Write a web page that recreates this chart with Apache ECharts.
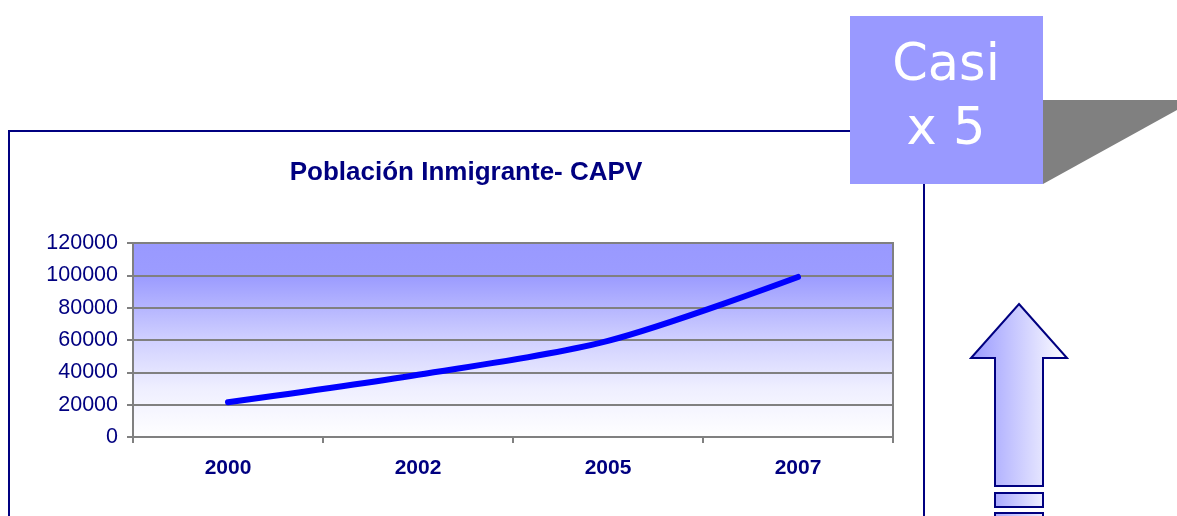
<!DOCTYPE html>
<html>
<head>
<meta charset="utf-8">
<script src="https://cdn.jsdelivr.net/npm/echarts@6/dist/echarts.min.js"></script>
<style>
  html, body { margin: 0; padding: 0; background: #fff; }
  #chart { width: 1177px; height: 516px; }
</style>
</head>
<body>
<div id="chart"></div>
<script>
var years = ['2000', '2002', '2005', '2007']
var poblacion = [21500, 38500, 59500, 99000]
var yTicks = { min: 0, max: 120000, step: 20000 }

var chart = echarts.init(document.getElementById('chart'))
var navy = '#000080'
var font = '"Liberation Sans", Arial, sans-serif'

// flecha hacia arriba
var arrowPts = [[1019, 304], [1067, 358], [1043, 358], [1043, 486], [995, 486], [995, 358], [971, 358]]
var arrowFill = {
  type: 'linear', x: 0, y: 0, x2: 1, y2: 0,
  colorStops: [{ offset: 0, color: '#9999ff' }, { offset: 1, color: '#ffffff' }]
}
var rectFill = {
  type: 'linear', x: 0, y: 0, x2: 1, y2: 0,
  colorStops: [{ offset: 0, color: '#a8a8ff' }, { offset: 1, color: '#f0f0ff' }]
}

var option = {
  backgroundColor: '#ffffff',
  animation: false,
  grid: {
    left: 133,
    top: 243,
    right: 284,
    bottom: 79,
    show: true,
    borderColor: '#808080',
    borderWidth: 2,
    backgroundColor: {
      type: 'linear', x: 0, y: 0, x2: 0, y2: 1,
      colorStops: [
        { offset: 0, color: '#9999ff' },
        { offset: 0.18, color: '#9c9cff' },
        { offset: 0.5, color: '#d0d0ff' },
        { offset: 0.75, color: '#efefff' },
        { offset: 1, color: '#ffffff' }
      ]
    }
  },
  xAxis: {
    type: 'category',
    data: years,
    boundaryGap: true,
    axisLine: { lineStyle: { color: '#808080', width: 2 } },
    axisTick: { show: true, length: 6, lineStyle: { color: '#808080', width: 2 } },
    axisLabel: { color: navy, fontSize: 21, fontWeight: 'bold', fontFamily: font, margin: 21 }
  },
  yAxis: {
    type: 'value',
    min: yTicks.min,
    max: yTicks.max,
    interval: yTicks.step,
    axisLine: { show: true, lineStyle: { color: '#808080', width: 2 } },
    axisTick: { show: true, length: 6, lineStyle: { color: '#808080', width: 2 } },
    axisLabel: {
      color: navy, fontSize: 21.5, fontFamily: font, margin: 15,
      formatter: function (v) { return String(v) }
    },
    splitLine: { lineStyle: { color: '#808080', width: 2 } }
  },
  series: [{
    type: 'line',
    data: poblacion,
    smooth: 0.3,
    symbol: 'none',
    lineStyle: { color: '#0000ff', width: 6, cap: 'round' }
  }],
  graphic: [
    {
      type: 'rect', z: 0,
      shape: { x: 9, y: 131, width: 915, height: 420 },
      style: { fill: 'none', stroke: navy, lineWidth: 2 }
    },
    {
      type: 'text', z: 10,
      style: {
        text: 'Población Inmigrante- CAPV',
        x: 466, y: 173, textAlign: 'center', textVerticalAlign: 'middle',
        font: 'bold 26px ' + font, fill: navy
      }
    },
    {
      type: 'polygon', z: 10,
      shape: { points: [[1043, 100], [1195, 100], [1043, 184]] },
      style: { fill: '#808080' }
    },
    {
      type: 'rect', z: 11,
      shape: { x: 850, y: 16, width: 193, height: 168 },
      style: { fill: '#9999ff' }
    },
    {
      type: 'text', z: 12,
      style: {
        text: 'Casi\nx 5', x: 946, y: 99, textAlign: 'center', textVerticalAlign: 'middle',
        font: '51px "DejaVu Sans", Verdana, sans-serif', lineHeight: 64, fill: '#ffffff'
      }
    },
    {
      type: 'polygon', z: 10,
      shape: { points: arrowPts },
      style: { fill: arrowFill, stroke: navy, lineWidth: 2 }
    },
    {
      type: 'rect', z: 10,
      shape: { x: 995, y: 493, width: 48, height: 14 },
      style: { fill: rectFill, stroke: navy, lineWidth: 2 }
    },
    {
      type: 'rect', z: 10,
      shape: { x: 995, y: 513, width: 48, height: 14 },
      style: { fill: rectFill, stroke: navy, lineWidth: 2 }
    }
  ]
}

chart.setOption(option)
</script>
</body>
</html>
